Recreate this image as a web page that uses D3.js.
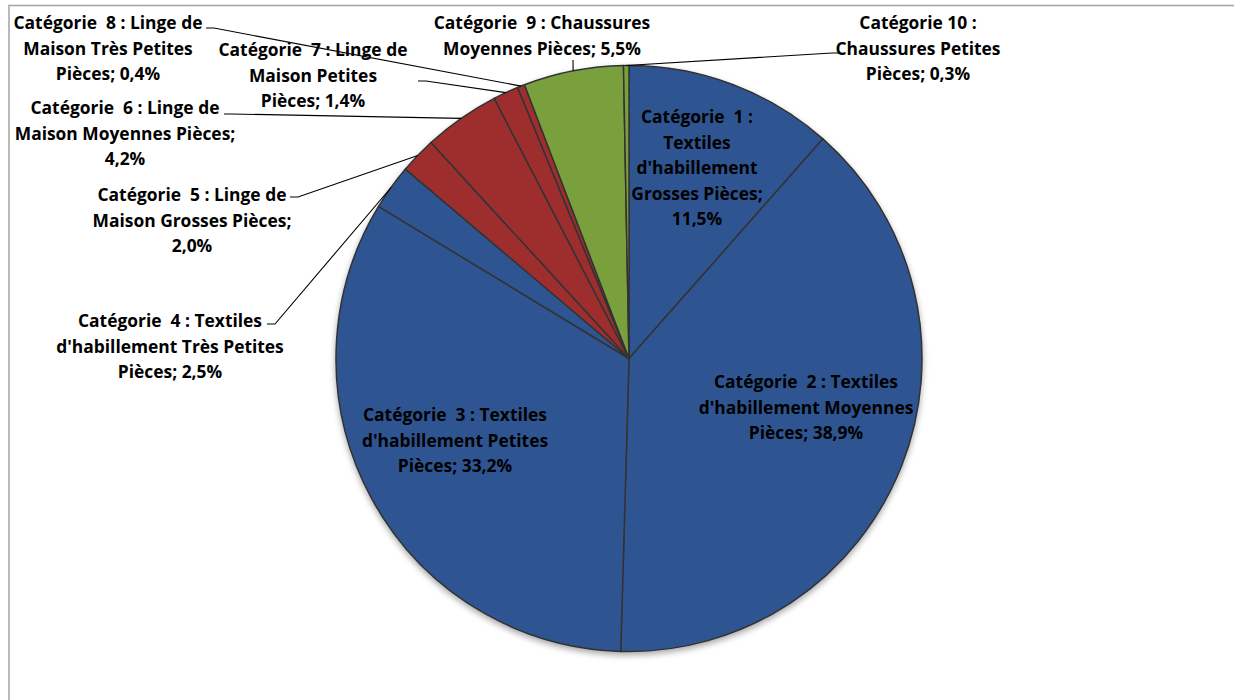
<!DOCTYPE html>
<html><head><meta charset="utf-8">
<script src="https://cdn.jsdelivr.net/npm/d3@7"></script>
<style>
html,body{margin:0;padding:0;background:#fff;}
svg{display:block;}
text{font-family:"Open Sans",Lato,sans-serif;font-weight:700;font-size:17.4px;fill:#000;white-space:pre;}
</style></head>
<body>
<svg id="c" width="1234" height="700"></svg>
<script>
// ---- data ----
const categories = [
  "Catégorie  1 : Textiles d'habillement Grosses Pièces",
  "Catégorie  2 : Textiles d'habillement Moyennes Pièces",
  "Catégorie  3 : Textiles d'habillement Petites Pièces",
  "Catégorie  4 : Textiles d'habillement Très Petites Pièces",
  "Catégorie  5 : Linge de Maison Grosses Pièces",
  "Catégorie  6 : Linge de Maison Moyennes Pièces",
  "Catégorie  7 : Linge de Maison Petites Pièces",
  "Catégorie  8 : Linge de Maison Très Petites Pièces",
  "Catégorie  9 : Chaussures Moyennes Pièces",
  "Catégorie 10 : Chaussures Petites Pièces"
];
const values = [11.5, 38.9, 33.2, 2.5, 2.0, 4.2, 1.4, 0.4, 5.5, 0.3];
const groups = ["textile","textile","textile","textile","linge","linge","linge","linge","chaussure","chaussure"];
const labelLines = [
  ["Catégorie  1 :","Textiles","d'habillement","Grosses Pièces;","11,5%"],
  ["Catégorie  2 : Textiles","d'habillement Moyennes","Pièces; 38,9%"],
  ["Catégorie  3 : Textiles","d'habillement Petites","Pièces; 33,2%"],
  ["Catégorie  4 : Textiles","d'habillement Très Petites","Pièces; 2,5%"],
  ["Catégorie  5 : Linge de","Maison Grosses Pièces;","2,0%"],
  ["Catégorie  6 : Linge de","Maison Moyennes Pièces;","4,2%"],
  ["Catégorie  7 : Linge de","Maison Petites","Pièces; 1,4%"],
  ["Catégorie  8 : Linge de","Maison Très Petites","Pièces; 0,4%"],
  ["Catégorie  9 : Chaussures","Moyennes Pièces; 5,5%"],
  ["Catégorie 10 :","Chaussures Petites","Pièces; 0,3%"]
];

// ---- layout (positions only) ----
const W = 1234, H = 700;
const cx = 629, cy = 358.5, R = 293;
const lineH = 25.5;
// label centre x, first-line centre y, leader anchor (null = none)
const labelPos = [
  {x:697, y:117, anchor:null},
  {x:806, y:382, anchor:null},
  {x:455, y:415, anchor:null},
  {x:170, y:321, anchor:[267,324], dir:1},
  {x:192, y:195, anchor:[290,197], dir:1},
  {x:125, y:108, anchor:[224,114], dir:1},
  {x:313, y:50,  anchor:[418,81], dir:1},
  {x:108, y:23,  anchor:[206,28], dir:1},
  {x:542, y:23,  anchor:[573,60], dir:0},
  {x:918, y:23,  anchor:[840,53], dir:-1}
];

const colors = d3.scaleOrdinal()
  .domain(["textile","linge","chaussure"])
  .range(["#2f5591","#9e2f2f","#79a03c"]);

const svg = d3.select("#c");

// chart frame
svg.append("rect").attr("x",9).attr("y",5.5).attr("width",W+20).attr("height",H+20)
  .attr("fill","#fff").attr("stroke","#a8a8a8").attr("stroke-width",1.6);

const defs = svg.append("defs");
const f = defs.append("filter").attr("id","sh").attr("x","-10%").attr("y","-10%").attr("width","120%").attr("height","125%");
f.append("feGaussianBlur").attr("in","SourceAlpha").attr("stdDeviation",3).attr("result","b");
f.append("feOffset").attr("in","b").attr("dx",0).attr("dy",3).attr("result","o");
f.append("feComponentTransfer").attr("in","o").attr("result","o2")
  .append("feFuncA").attr("type","linear").attr("slope",0.35);
const fm = f.append("feMerge");
fm.append("feMergeNode").attr("in","o2");
fm.append("feMergeNode").attr("in","SourceGraphic");

const pie = d3.pie().sort(null).value(d => d.v).startAngle(0).endAngle(2*Math.PI);
const data = values.map((v,i) => ({v, g:groups[i], i}));
const arcs = pie(data);
const arc = d3.arc().innerRadius(0).outerRadius(R);
const edge = d3.arc().innerRadius(R).outerRadius(R);

const g = svg.append("g").attr("transform",`translate(${cx},${cy})`);
const gp = g.append("g").attr("filter","url(#sh)");
gp.selectAll("path.s").data(arcs).join("path").attr("class","s")
  .attr("d",arc).attr("fill",d => colors(d.data.g))
  .attr("stroke","#333").attr("stroke-width",1.5).attr("stroke-linejoin","round");

// leader lines
arcs.forEach((a,i) => {
  const lp = labelPos[i];
  if (!lp.anchor) return;
  const [ex,ey] = edge.centroid(a);
  const [ax,ay] = lp.anchor;
  const pts = lp.dir === 0 ? [[ax,ay],[cx+ex,cy+ey]]
            : [[ax,ay],[ax+lp.dir*8,ay],[cx+ex,cy+ey]];
  svg.append("path").attr("d",d3.line()(pts))
    .attr("fill","none").attr("stroke","#000").attr("stroke-width",1.1);
});

// labels
labelLines.forEach((lines,i) => {
  const lp = labelPos[i];
  const t = svg.append("text").attr("text-anchor","middle");
  lines.forEach((s,k) => {
    t.append("tspan").attr("x",lp.x).attr("y",lp.y + k*lineH)
      .attr("dy","0.35em").text(s);
  });
});
</script>
</body></html>
